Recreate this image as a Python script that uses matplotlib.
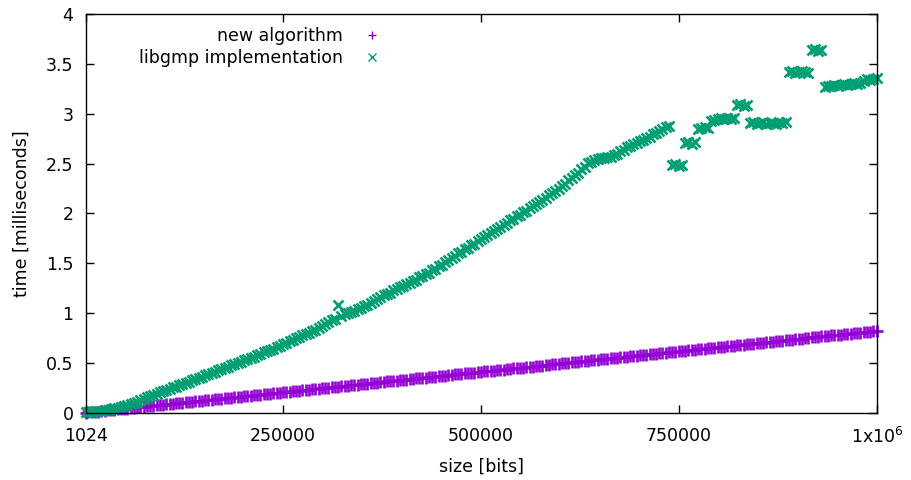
import matplotlib
matplotlib.use("Agg")
import matplotlib.pyplot as plt

# message sizes in kbit (1 kbit = 1024 bits)
size_kbit = [
    1, 4, 8, 12, 16, 20, 24, 28, 32, 36, 40, 44, 48, 52, 56, 60, 64, 68, 72, 76,
    80, 84, 88, 92, 96, 100, 104, 108, 112, 116, 120, 124, 128, 132, 136, 140, 144, 148, 152, 156,
    160, 164, 168, 172, 176, 180, 184, 188, 192, 196, 200, 204, 208, 212, 216, 220, 224, 228, 232, 236,
    240, 244, 248, 252, 256, 260, 264, 268, 272, 276, 280, 284, 288, 292, 296, 300, 304, 308, 312, 316,
    320, 324, 328, 332, 336, 340, 344, 348, 352, 356, 360, 364, 368, 372, 376, 380, 384, 388, 392, 396,
    400, 404, 408, 412, 416, 420, 424, 428, 432, 436, 440, 444, 448, 452, 456, 460, 464, 468, 472, 476,
    480, 484, 488, 492, 496, 500, 504, 508, 512, 516, 520, 524, 528, 532, 536, 540, 544, 548, 552, 556,
    560, 564, 568, 572, 576, 580, 584, 588, 592, 596, 600, 604, 608, 612, 616, 620, 624, 628, 632, 636,
    640, 644, 648, 652, 656, 660, 664, 668, 672, 676, 680, 684, 688, 692, 696, 700, 704, 708, 712, 716,
    720, 724, 728, 732, 736, 740, 744, 748, 752, 756, 760, 764, 768, 772, 776, 780, 784, 788, 792, 796,
    800, 804, 808, 812, 816, 820, 824, 828, 832, 836, 840, 844, 848, 852, 856, 860, 864, 868, 872, 876,
    880, 884, 888, 892, 896, 900, 904, 908, 912, 916, 920, 924, 928, 932, 936, 940, 944, 948, 952, 956,
    960, 964, 968, 972, 976,
]

# time in milliseconds, new algorithm
new_ms = [
    0.003, 0.006, 0.008, 0.013, 0.015, 0.020, 0.021, 0.026, 0.030, 0.032,
    0.036, 0.040, 0.042, 0.045, 0.050, 0.052, 0.057, 0.059, 0.062, 0.067,
    0.069, 0.073, 0.077, 0.079, 0.083, 0.087, 0.089, 0.094, 0.096, 0.100,
    0.103, 0.107, 0.110, 0.113, 0.117, 0.120, 0.123, 0.127, 0.131, 0.133,
    0.137, 0.140, 0.144, 0.147, 0.150, 0.154, 0.157, 0.161, 0.163, 0.167,
    0.171, 0.173, 0.178, 0.180, 0.184, 0.188, 0.190, 0.194, 0.197, 0.201,
    0.204, 0.208, 0.210, 0.215, 0.217, 0.221, 0.224, 0.228, 0.231, 0.235,
    0.238, 0.241, 0.245, 0.247, 0.252, 0.254, 0.258, 0.262, 0.264, 0.268,
    0.272, 0.274, 0.278, 0.282, 0.284, 0.289, 0.291, 0.295, 0.299, 0.301,
    0.305, 0.309, 0.311, 0.316, 0.318, 0.322, 0.325, 0.329, 0.332, 0.335,
    0.339, 0.342, 0.346, 0.348, 0.353, 0.355, 0.359, 0.363, 0.365, 0.369,
    0.373, 0.375, 0.380, 0.382, 0.386, 0.390, 0.392, 0.396, 0.400, 0.402,
    0.406, 0.410, 0.412, 0.417, 0.419, 0.423, 0.426, 0.430, 0.433, 0.436,
    0.440, 0.443, 0.447, 0.449, 0.454, 0.456, 0.460, 0.464, 0.466, 0.470,
    0.474, 0.476, 0.481, 0.483, 0.487, 0.491, 0.493, 0.497, 0.501, 0.503,
    0.507, 0.511, 0.513, 0.518, 0.520, 0.524, 0.527, 0.531, 0.534, 0.537,
    0.541, 0.544, 0.548, 0.550, 0.555, 0.557, 0.561, 0.565, 0.567, 0.571,
    0.575, 0.577, 0.582, 0.584, 0.588, 0.592, 0.594, 0.598, 0.602, 0.604,
    0.608, 0.612, 0.614, 0.619, 0.621, 0.625, 0.628, 0.632, 0.635, 0.638,
    0.642, 0.645, 0.649, 0.651, 0.656, 0.658, 0.662, 0.666, 0.668, 0.672,
    0.676, 0.678, 0.683, 0.685, 0.689, 0.693, 0.695, 0.699, 0.703, 0.705,
    0.709, 0.713, 0.715, 0.720, 0.722, 0.726, 0.729, 0.733, 0.736, 0.739,
    0.743, 0.746, 0.750, 0.752, 0.757, 0.759, 0.763, 0.767, 0.769, 0.773,
    0.777, 0.779, 0.784, 0.786, 0.790, 0.794, 0.796, 0.800, 0.804, 0.806,
    0.810, 0.814, 0.816, 0.821, 0.823,
]

# time in milliseconds, libgmp
gmp_ms = [
    0.010, 0.011, 0.012, 0.016, 0.018, 0.022, 0.026, 0.034, 0.039, 0.047,
    0.051, 0.061, 0.069, 0.081, 0.089, 0.102, 0.113, 0.131, 0.138, 0.157,
    0.168, 0.182, 0.193, 0.207, 0.218, 0.232, 0.238, 0.257, 0.263, 0.277,
    0.288, 0.302, 0.313, 0.327, 0.338, 0.352, 0.363, 0.377, 0.388, 0.402,
    0.413, 0.427, 0.438, 0.452, 0.463, 0.477, 0.488, 0.502, 0.513, 0.527,
    0.538, 0.552, 0.563, 0.582, 0.588, 0.607, 0.617, 0.632, 0.643, 0.662,
    0.668, 0.687, 0.698, 0.717, 0.728, 0.747, 0.758, 0.777, 0.788, 0.807,
    0.818, 0.837, 0.853, 0.872, 0.888, 0.912, 0.928, 0.947, 1.080, 0.977,
    0.988, 1.002, 1.008, 1.027, 1.038, 1.057, 1.068, 1.087, 1.098, 1.122,
    1.138, 1.162, 1.178, 1.197, 1.208, 1.232, 1.243, 1.262, 1.278, 1.297,
    1.308, 1.327, 1.338, 1.362, 1.373, 1.397, 1.408, 1.432, 1.448, 1.472,
    1.488, 1.512, 1.533, 1.557, 1.573, 1.602, 1.618, 1.642, 1.658, 1.682,
    1.698, 1.727, 1.743, 1.767, 1.783, 1.807, 1.823, 1.847, 1.863, 1.887,
    1.903, 1.932, 1.948, 1.972, 1.988, 2.012, 2.028, 2.057, 2.073, 2.097,
    2.113, 2.137, 2.158, 2.182, 2.203, 2.227, 2.248, 2.277, 2.298, 2.332,
    2.353, 2.387, 2.408, 2.442, 2.468, 2.502, 2.518, 2.537, 2.543, 2.552,
    2.553, 2.562, 2.568, 2.587, 2.598, 2.622, 2.638, 2.662, 2.673, 2.692,
    2.703, 2.722, 2.733, 2.757, 2.768, 2.792, 2.808, 2.832, 2.848, 2.867,
    2.878, 2.49, 2.50, 2.48, 2.49, 2.71, 2.72, 2.70, 2.72, 2.85,
    2.86, 2.87, 2.86, 2.93, 2.94, 2.95, 2.96, 2.95, 2.96, 2.95,
    2.96, 3.09, 3.10, 3.08, 3.09, 2.91, 2.92, 2.90, 2.91, 2.92,
    2.90, 2.91, 2.91, 2.90, 2.92, 2.91, 2.92, 3.42, 3.43, 3.41,
    3.42, 3.43, 3.42, 3.41, 3.64, 3.65, 3.63, 3.64, 3.27, 3.28,
    3.28, 3.29, 3.28, 3.29, 3.30, 3.29, 3.30, 3.31, 3.30, 3.31,
    3.33, 3.35, 3.34, 3.35, 3.36,
]

x_ticks = [1024, 250000, 500000, 750000, 1000000]
x_tick_labels = ["1024", "250000", "500000", "750000", "1x10$^{6}$"]
y_ticks = [0, 0.5, 1, 1.5, 2, 2.5, 3, 3.5, 4]
y_tick_labels = ["0", "0.5", "1", "1.5", "2", "2.5", "3", "3.5", "4"]

sizes = [k * 1024 for k in size_kbit]

plt.rcParams["font.family"] = "DejaVu Sans"
plt.rcParams["mathtext.fontset"] = "dejavusans"

fig = plt.figure(figsize=(9.11, 4.80), dpi=100)
ax = fig.add_axes([86 / 911, 67 / 480, 791 / 911, 399 / 480])

# plot data points (gnuplot-like "with points")
ax.plot(sizes, new_ms, linestyle="none", marker="+", ms=8, mew=1.9,
        color="#9400d3", label="new algorithm", clip_on=False)
ax.plot(sizes, gmp_ms, linestyle="none", marker="x", ms=7.5, mew=1.9,
        color="#009e73", label="libgmp implementation", clip_on=False)

ax.set_xlim(1024, 1000000)
ax.set_ylim(0, 4)
ax.set_xticks(x_ticks)
ax.set_xticklabels(x_tick_labels)
ax.set_yticks(y_ticks)
ax.set_yticklabels(y_tick_labels)
ax.tick_params(direction="in", length=6, width=1, labelsize=12.5,
               top=True, right=True, color="black")
ax.tick_params(axis="x", pad=10)
ax.tick_params(axis="y", pad=9)
for s in ax.spines.values():
    s.set_linewidth(1)

ax.set_xlabel("size [bits]", fontsize=12.5, labelpad=8)
ax.set_ylabel("time [milliseconds]", fontsize=12.5, labelpad=11)

leg = ax.legend(loc="upper left", bbox_to_anchor=(0.058, 0.985), frameon=False,
                markerfirst=False, fontsize=12.5, handlelength=1.6,
                handletextpad=0.9, labelspacing=0.25, borderaxespad=0)
for h in leg.legend_handles:
    h.set_markeredgewidth(1.0)
    h.set_markersize(6)

fig.savefig("out.png", dpi=100)
